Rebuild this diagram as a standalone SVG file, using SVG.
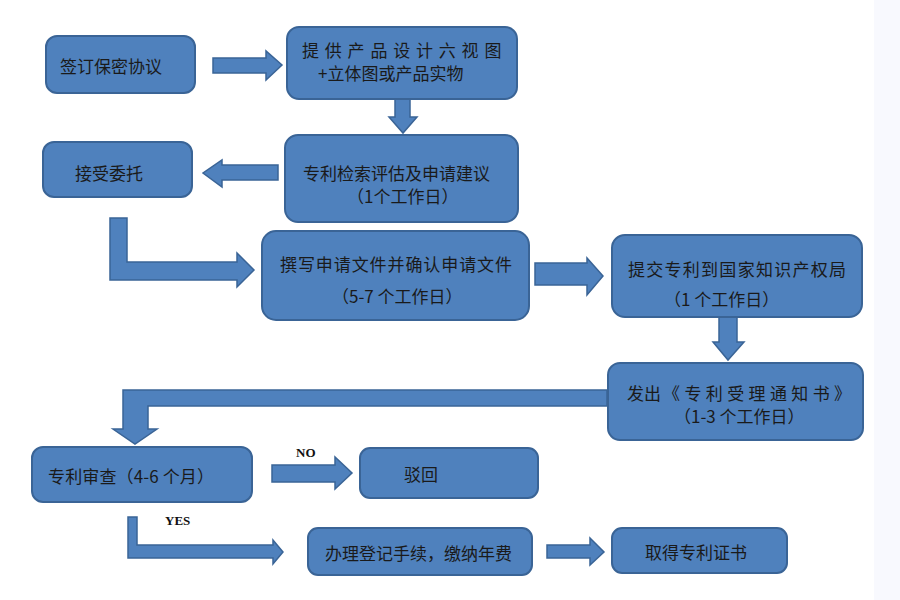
<svg xmlns="http://www.w3.org/2000/svg" width="900" height="600" viewBox="0 0 900 600">
<style>
.box{fill:#4f81bd;stroke:#3a6496;stroke-width:2}
.arr{fill:#4f81bd;stroke:#3a6496;stroke-width:1.5;stroke-linejoin:miter}
.t{font-family:"Noto Sans CJK SC","Noto Sans",sans-serif;font-size:17px;fill:#1a1a1a;dominant-baseline:central}
.lbl{font-family:"Liberation Serif",serif;font-size:13px;font-weight:bold;fill:#111;dominant-baseline:central}
</style>
<rect x="0" y="0" width="900" height="600" fill="#ffffff"/>
<rect x="874" y="0" width="26" height="600" fill="#f8f9fe"/>
<g id="connectors">
<polygon class="arr" points="213,58 266,58 266,51 282,65 266,80 266,73 213,73"/>
<polygon class="arr" points="395,99 410,99 410,117 417,117 403,133 389,117 395,117"/>
<polygon class="arr" points="278,165 222,165 222,160 203,173 222,187 222,180 278,180"/>
<polygon class="arr" points="110,218 127,218 127,262 237,262 237,253 254,270 237,287 237,280 110,280"/>
<polygon class="arr" points="535,263 587,263 587,258 603,276 587,295 587,285 535,285"/>
<polygon class="arr" points="719,317 737,317 737,342 744,342 728,360 713,342 719,342"/>
<polygon class="arr" points="607,390 123,390 123,429 113,429 135,444 157,429 148,429 148,406 607,406"/>
<polygon class="arr" points="272,465 335,465 335,457 352,473 335,489 335,482 272,482"/>
<polygon class="arr" points="128,517 137,517 137,545 273,545 273,540 283,552 273,564 273,558 128,558"/>
<polygon class="arr" points="547,545 590,545 590,538 604,552 590,565 590,558 547,558"/>
<text class="lbl" x="296" y="452">NO</text>
<text class="lbl" x="165" y="520">YES</text>
</g>
<g id="n1"><rect class="box" x="46" y="36" width="149" height="57" rx="11"/><text class="t" x="60" y="65">签订保密协议</text></g>
<g id="n2"><rect class="box" x="287" y="27" width="230" height="72" rx="12"/><text class="t" x="302" y="49" letter-spacing="5.8">提供产品设计六视图</text><text class="t" x="318" y="72">+立体图或产品实物</text></g>
<g id="n3"><rect class="box" x="285" y="135" width="233" height="87" rx="13"/><text class="t" x="303" y="172">专利检索评估及申请建议</text><text class="t" x="347" y="195">（1个工作日）</text></g>
<g id="n4"><rect class="box" x="43" y="142" width="149" height="55" rx="11"/><text class="t" x="75" y="172">接受委托</text></g>
<g id="n5"><rect class="box" x="262" y="231" width="267" height="89" rx="14"/><text class="t" x="280" y="263" textLength="232" lengthAdjust="spacing">撰写申请文件并确认申请文件</text><text class="t" x="332" y="295">（5-7 个工作日）</text></g>
<g id="n6"><rect class="box" x="612" y="235" width="250" height="82" rx="13"/><text class="t" x="628" y="268" textLength="218" lengthAdjust="spacing">提交专利到国家知识产权局</text><text class="t" x="664" y="298">（1 个工作日）</text></g>
<g id="n7"><rect class="box" x="608" y="363" width="255" height="77" rx="12"/><text class="t" x="627" y="392">发出</text><text class="t" x="663" y="392" textLength="188" lengthAdjust="spacing">《专利受理通知书》</text><text class="t" x="674" y="415">（1-3 个工作日）</text></g>
<g id="n8"><rect class="box" x="32" y="447" width="220" height="55" rx="11"/><text class="t" x="48" y="475" textLength="166" lengthAdjust="spacing">专利审查（4-6 个月）</text></g>
<g id="n9"><rect class="box" x="360" y="448" width="178" height="50" rx="10"/><text class="t" x="404" y="473">驳回</text></g>
<g id="n10"><rect class="box" x="308" y="528" width="224" height="47" rx="10"/><text class="t" x="325" y="552">办理登记手续，缴纳年费</text></g>
<g id="n11"><rect class="box" x="612" y="528" width="175" height="45" rx="10"/><text class="t" x="645" y="551">取得专利证书</text></g>
</svg>
